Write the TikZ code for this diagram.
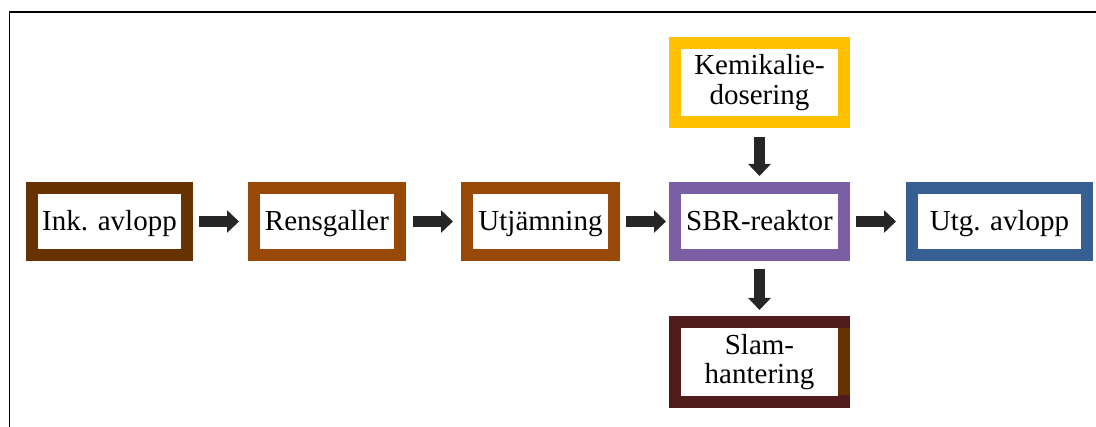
\documentclass[tikz,border=0pt]{standalone}
\usepackage{fontspec}
\setmainfont{Liberation Serif}
\usetikzlibrary{arrows.meta}
\definecolor{cInk}{HTML}{663300}
\definecolor{cRens}{HTML}{984807}
\definecolor{cSbr}{HTML}{7B5FA5}
\definecolor{cUtg}{HTML}{376092}
\definecolor{cKem}{HTML}{FFC000}
\definecolor{cSlam}{HTML}{501C1C}
\definecolor{arrowgray}{HTML}{262626}
\begin{document}
\begin{tikzpicture}[x=1pt,y=-1pt,
  box/.style={draw, line width=12pt, fill=white, inner sep=0pt, align=center,
    font=\fontsize{29}{29.5}\selectfont, text=black},
  oneline/.style={text height=21pt, text depth=3pt},
  blk/.style={draw=arrowgray, line width=11pt, -{Triangle[length=12pt,width=22pt]}},
  frame/.style={draw=black, line width=1.3pt}]
\useasboundingbox (0,0) rectangle (1096,427);
% frame lines
\coordinate (ftl) at (9.5,12);
\coordinate (ftr) at (1096,12);
\coordinate (fbl) at (9.5,427);
\draw[frame] (ftr) -- (ftl) -- (fbl);
% boxes
\node[box, oneline, draw=cInk,  minimum width=155pt, minimum height=67pt] (ink)  at (109.5,221.5) {Ink. avlopp};
\node[box, oneline, draw=cRens, minimum width=146pt, minimum height=67pt] (rens) at (327,221.5) {Rensgaller};
\node[box, oneline, draw=cRens, minimum width=147pt, minimum height=67pt] (utj)  at (540.5,221.5) {Utjämning};
\node[box, oneline, draw=cSbr,  minimum width=169pt, minimum height=67pt] (sbr)  at (759.5,221.5) {SBR-reaktor};
\node[box, oneline, draw=cUtg,  minimum width=175pt, minimum height=67pt] (utg)  at (999.5,221.5) {Utg. avlopp};
\node[box, draw=cKem,  minimum width=169pt, minimum height=79pt] (kem)  at (759.5,82.5) {Kemikalie-\\dosering};
\node[box, draw=cSlam, minimum width=169pt, minimum height=80pt] (slam) at (759.5,362) {Slam-\\hantering};
% colour glitch on the right side of the Slam box
\fill[cInk] ([xshift=-12pt,yshift=-33.5pt]slam.east) rectangle ([yshift=33.5pt]slam.east);
% arrows
\draw[blk] ([xshift=6pt]ink.east)  -- ([xshift=-9pt]rens.west);
\draw[blk] ([xshift=7pt]rens.east) -- ([xshift=-8pt]utj.west);
\draw[blk] ([xshift=6pt]utj.east)  -- ([xshift=-3pt]sbr.west);
\draw[blk] ([xshift=6pt]sbr.east)  -- ([xshift=-10pt]utg.west);
\draw[blk] ([yshift=-9pt]kem.south) -- ([yshift=6pt]sbr.north);
\draw[blk] ([yshift=-8pt]sbr.south) -- ([yshift=6pt]slam.north);
\end{tikzpicture}
\end{document}
